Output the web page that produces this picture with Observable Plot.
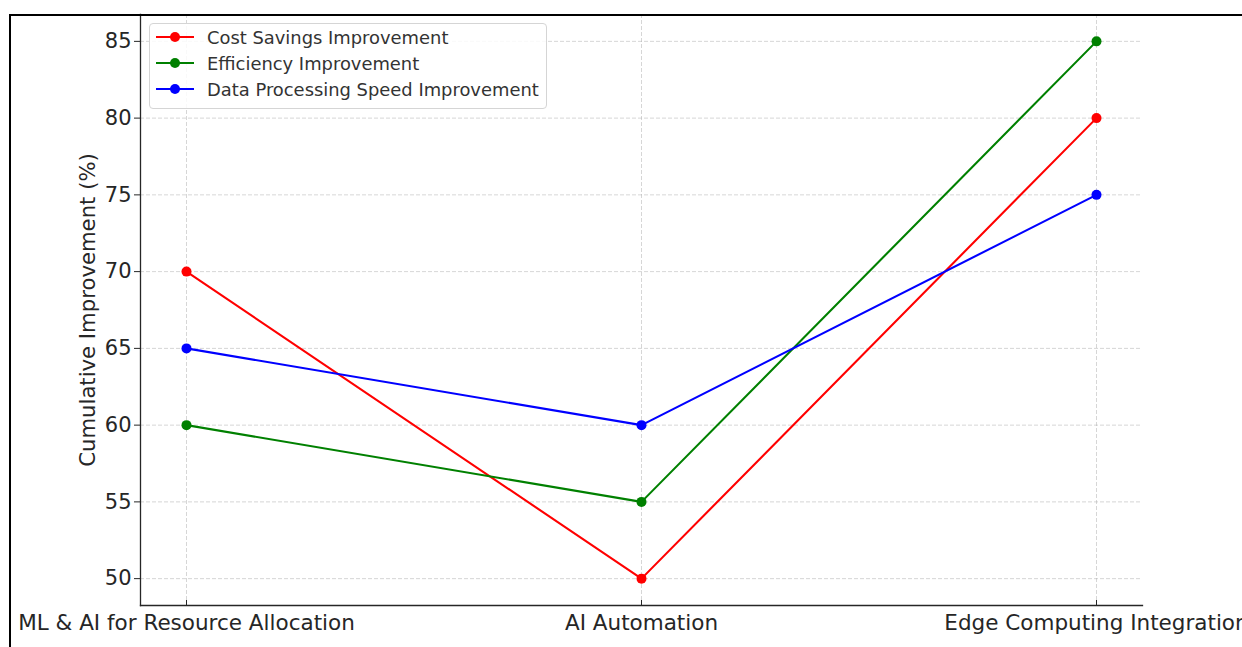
<!DOCTYPE html>
<html>
<head>
<meta charset="utf-8">
<script src="https://cdn.jsdelivr.net/npm/d3@7"></script>
<script src="https://cdn.jsdelivr.net/npm/@observablehq/plot@0.6"></script>
<style>
  html, body { margin: 0; padding: 0; background: #fff; overflow: hidden; width: 1242px; height: 647px; }
  #wrap { position: relative; width: 1242px; height: 647px; }
  #border { position: absolute; left: 9px; top: 14px; right: -10px; bottom: -10px; border-top: 2px solid #000; border-left: 2px solid #000; pointer-events: none; }
  #legend { position: absolute; left: 149px; top: 23px; width: 396px; height: 84px; border: 1px solid #d5d5d5; border-radius: 4px; background: rgba(255,255,255,0.85); font-family: "DejaVu Sans", sans-serif; font-size: 17.9px; color: #333; }
  .item { position: absolute; left: 5px; height: 20px; display: flex; align-items: center; white-space: nowrap; }
  .item svg { margin-right: 12px; }
</style>
</head>
<body>
<div id="wrap">
  <div id="chart"></div>
  <div id="legend"></div>
  <div id="border"></div>
</div>
<script>
const categories = ["ML & AI for Resource Allocation", "AI Automation", "Edge Computing Integration"];
const seriesNames = ["Cost Savings Improvement", "Efficiency Improvement", "Data Processing Speed Improvement"];
const seriesColors = ["#ff0000", "#008000", "#0000ff"];
const costSavings = [70, 50, 80];
const efficiency = [60, 55, 85];
const dataSpeed = [65, 60, 75];
const yTicks = [50, 55, 60, 65, 70, 75, 80, 85];
const yLabel = "Cumulative Improvement (%)";

const seriesValues = [costSavings, efficiency, dataSpeed];
const rows = [];
seriesNames.forEach((s, i) => {
  categories.forEach((c, j) => rows.push({series: s, category: c, value: seriesValues[i][j]}));
});

const gridStyle = {stroke: "#b0b0b0", strokeOpacity: 0.65, strokeDasharray: "4,2", strokeWidth: 0.8};

const chart = Plot.plot({
  width: 1242,
  height: 647,
  marginLeft: 140,
  marginRight: 100,
  marginTop: 14,
  marginBottom: 42,
  style: {fontFamily: "DejaVu Sans, sans-serif", fontSize: "21px", color: "#262626", background: "transparent", overflow: "hidden"},
  x: {type: "point", domain: categories, padding: 0.1},
  y: {domain: [48.25, 86.75]},
  color: {domain: seriesNames, range: seriesColors},
  marks: [
    Plot.gridX(gridStyle),
    Plot.gridY({ticks: yTicks, ...gridStyle}),
    Plot.frame({anchor: "left", stroke: "#262626", strokeWidth: 1.3}),
    Plot.frame({anchor: "bottom", stroke: "#262626", strokeWidth: 1.3}),
    Plot.axisY({ticks: yTicks, tickSize: 6, tickPadding: 3, label: null, stroke: "#262626"}),
    Plot.axisX({tickSize: 0, tickPadding: 9, label: null, fontSize: 21.5}),
    Plot.axisX({tickSize: 5, dy: -5, tickFormat: () => "", label: null, stroke: "#262626"}),
    Plot.text([yLabel], {text: d => d, frameAnchor: "left", textAnchor: "middle", lineAnchor: "middle", rotate: -90, dx: -52, fontSize: 21.2, fill: "#262626"}),
    Plot.line(rows, {x: "category", y: "value", z: "series", stroke: "series", strokeWidth: 2.1}),
    Plot.dot(rows, {x: "category", y: "value", fill: "series", r: 5})
  ]
});
document.getElementById("chart").appendChild(chart);

const legend = document.getElementById("legend");
seriesNames.forEach((s, i) => {
  const item = document.createElement("div");
  item.className = "item";
  item.style.top = (3 + i * 26) + "px";
  item.innerHTML = `<svg width="40" height="20"><line x1="1" x2="39" y1="10" y2="10" stroke="${seriesColors[i]}" stroke-width="2.1"/><circle cx="20" cy="10" r="5" fill="${seriesColors[i]}"/></svg><span>${s}</span>`;
  legend.appendChild(item);
});
</script>
</body>
</html>
